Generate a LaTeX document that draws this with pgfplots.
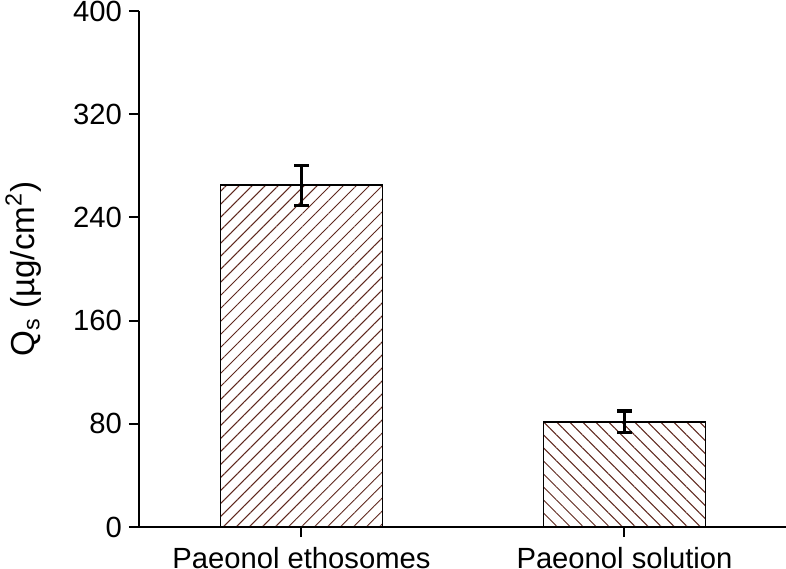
\documentclass[border=0pt]{standalone}
\usepackage{pgfplots}
\pgfplotsset{compat=1.18}
\usepackage{fontspec}
\setmainfont{Liberation Sans}
\usetikzlibrary{patterns.meta}
\definecolor{hatch}{RGB}{95,40,30}
\begin{document}
\begin{tikzpicture}
\begin{axis}[
  scale only axis,
  width=323.5pt, height=258pt,
  xmin=-0.503, xmax=1.5,
  ymin=0, ymax=400,
  ytick={0,80,160,240,320,400},
  xtick={0,1},
  xticklabels={Paeonol ethosomes, Paeonol solution},
  axis x line*=bottom,
  axis y line*=left,
  axis line style={line width=1pt},
  tick align=outside,
  major tick length=5pt,
  tick style={line width=1pt, black},
  every tick label/.append style={font=\fontsize{14.6}{17}\selectfont},
  xticklabel style={yshift=-1.5pt},
  /pgf/number format/assume math mode=true,
  ylabel={Q\textsubscript{s} (µg/cm\textsuperscript{2})},
  ylabel style={font=\fontsize{16.6}{19}\selectfont, at={(axis description cs:-0.179,0.5)}, anchor=center},
  enlargelimits=false,
  clip=false,
]
\addplot[ybar, bar width=81pt, draw=black, line width=0.7pt,
  pattern={Lines[angle=45,distance=4.6pt,line width=0.5pt]}, pattern color=hatch,
  error bars/.cd, y dir=both, y explicit,
  error bar style={line width=1.6pt, black},
  error mark options={rotate=90, mark size=3.7pt, line width=1.6pt, black}]
  coordinates {(0,265) +- (0,15.5)};
\addplot[ybar, bar width=81pt, draw=black, line width=0.7pt,
  pattern={Lines[angle=-45,distance=4.6pt,line width=0.5pt]}, pattern color=hatch,
  error bars/.cd, y dir=both, y explicit,
  error bar style={line width=1.6pt, black},
  error mark options={rotate=90, mark size=3.7pt, line width=1.6pt, black}]
  coordinates {(1,81.5) +- (0,8.5)};
\end{axis}
\pgfresetboundingbox
\useasboundingbox (-69.5pt,-20.5pt) rectangle (323.5pt,263.5pt);
\end{tikzpicture}
\end{document}
